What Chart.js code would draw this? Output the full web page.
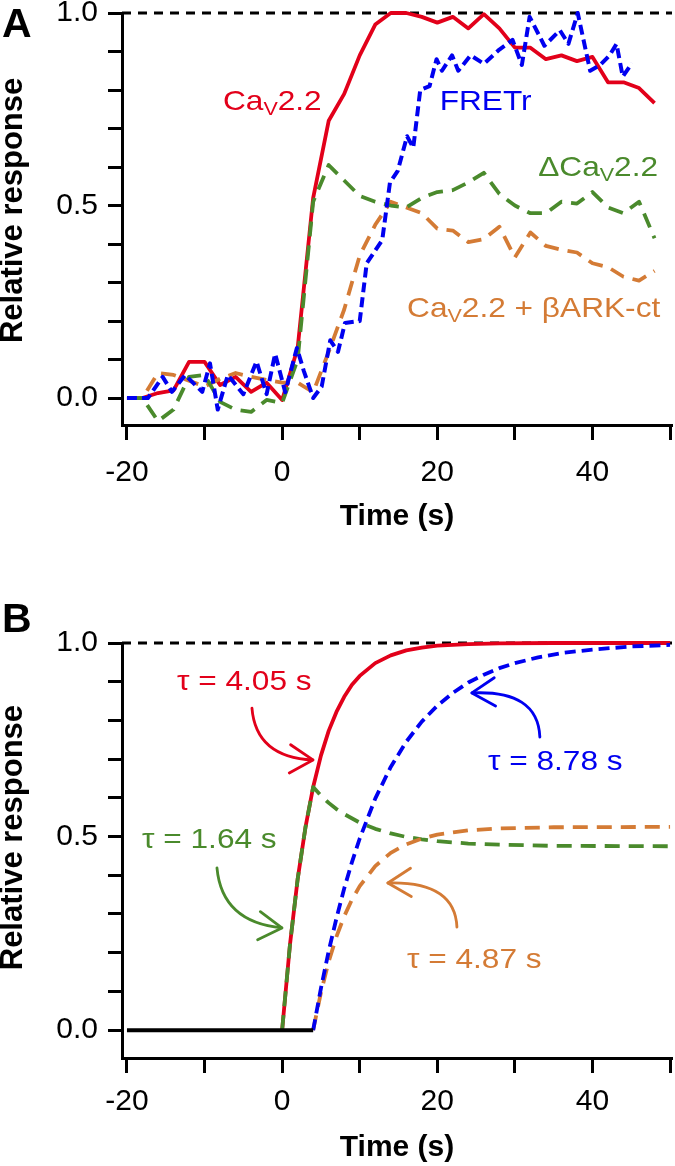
<!DOCTYPE html>
<html>
<head>
<meta charset="utf-8">
<script src="https://cdn.jsdelivr.net/npm/chart.js@4.4.1/dist/chart.umd.min.js"></script>
<style>
  html, body { margin: 0; padding: 0; background: #fff; }
  #wrap { position: relative; width: 675px; height: 1166px; }
  canvas { position: absolute; left: 0; }
</style>
</head>
<body>
<div id="wrap">
  <canvas id="chartA" width="675" height="560" style="top:0"></canvas>
  <canvas id="chartB" width="675" height="606" style="top:560px"></canvas>
</div>
<script>
// --- Panel A: measured traces ---
const timeA = [-20, -18, -16, -14, -12, -10, -8, -6, -4, -2, 0, 2, 4, 6, 8, 10, 12, 14, 16, 18,
               20, 22, 24, 26, 28, 30, 32, 34, 36, 38, 40, 42, 44, 46, 48];
const cav22 = [0, 0, 0.013, 0.02, 0.094, 0.094, 0.034, 0.055, 0.016, 0.04, -0.005, 0.13, 0.52, 0.72, 0.79,
               0.89, 0.97, 1.0, 1.0, 0.99, 0.975, 0.99, 0.96, 0.997, 0.96, 0.91, 0.91, 0.88, 0.89, 0.875,
               0.886, 0.82, 0.82, 0.805, 0.766];
const deltaCav22 = [0, 0, -0.06, -0.03, 0.055, 0.06, -0.01, -0.03, -0.036, -0.005, -0.013, 0.1, 0.51, 0.605,
                    0.565, 0.525, 0.51, 0.5, 0.495, 0.52, 0.535, 0.54, 0.56, 0.585, 0.53, 0.5, 0.48, 0.48,
                    0.51, 0.505, 0.535, 0.495, 0.48, 0.51, 0.415];
const cavBark = [0, 0, 0.065, 0.06, 0.045, 0.03, 0.05, 0.065, 0.055, 0.047, 0.04, 0.04, 0.015, 0.12, 0.23,
                 0.37, 0.45, 0.51, 0.495, 0.48, 0.44, 0.435, 0.405, 0.413, 0.445, 0.365, 0.43, 0.395, 0.385,
                 0.378, 0.35, 0.34, 0.315, 0.305, 0.33];
const fretTime = [-20, -17.3, -15.4, -14.2, -12.5, -10.3, -9.3, -8.3, -7, -5, -3.3, -2, -0.9, 0.4, 1.9, 2.8,
                  4, 5.1, 6.2, 7.2, 8.1, 10, 10.9, 12.9, 13.9, 14.9, 16.1, 16.9, 17.8, 19, 19.9, 20.6, 21.9,
                  22.7, 24.3, 26, 28, 29.7, 30.9, 31.9, 33.8, 35.8, 36.9, 38.1, 39.7, 41, 42.2, 43.1, 43.9, 45.1];
const fretValue = [0, 0, 0.055, 0.016, 0.06, 0.016, 0.09, -0.03, 0.06, 0.01, 0.095, 0.01, 0.115, 0.015, 0.13,
                   0.07, 0.0, 0.03, 0.15, 0.12, 0.195, 0.2, 0.35, 0.41, 0.56, 0.59, 0.68, 0.65, 0.8, 0.81,
                   0.88, 0.85, 0.89, 0.85, 0.89, 0.868, 0.905, 0.93, 0.865, 0.99, 0.915, 0.955, 0.92, 1.0,
                   0.85, 0.865, 0.89, 0.92, 0.835, 0.87];

// --- Panel B: fitted curves ---
const fitRedTime = [0, 1, 2, 3, 4, 5, 6, 7, 8, 9, 10, 12, 14, 16, 18, 20, 24, 28, 35, 50];
const fitRed = [0, 0.219, 0.390, 0.523, 0.628, 0.709, 0.773, 0.822, 0.861, 0.892, 0.915, 0.948, 0.968,
                0.981, 0.988, 0.993, 0.997, 0.999, 1.0, 1.0];
const fitGreenTime = [0, 1, 2, 3, 4, 5, 6, 7, 8, 10, 12, 14, 16, 18, 20, 24, 28, 35, 50];
const fitGreen = [0, 0.219, 0.390, 0.523, 0.628, 0.606, 0.587, 0.571, 0.558, 0.536, 0.520, 0.508, 0.499,
                  0.493, 0.488, 0.482, 0.479, 0.476, 0.475];
const fitBlueTime = [4, 5, 6, 7, 8, 9, 10, 12, 14, 16, 18, 20, 22, 24, 26, 28, 30, 33, 36, 40, 45, 50];
const fitBlue = [0, 0.108, 0.204, 0.289, 0.366, 0.434, 0.495, 0.598, 0.680, 0.745, 0.797, 0.838, 0.871,
                 0.898, 0.918, 0.935, 0.948, 0.963, 0.974, 0.983, 0.991, 0.995];
const fitOrangeTime = [4, 5, 6, 7, 8, 9, 10, 12, 14, 16, 18, 20, 24, 28, 35, 50];
const fitOrange = [0, 0.097, 0.177, 0.2415, 0.294, 0.337, 0.372, 0.4235, 0.458, 0.480, 0.495, 0.505,
                   0.516, 0.521, 0.524, 0.525];
const baseTime = [-20, 4];
const baseValue = [0, 0];

const X_MIN = -20.64, X_MAX = 50.25;
const refTime = [X_MIN, X_MAX];
const refValue = [1, 1];

const FONT = '"Liberation Sans", Arial, Helvetica, sans-serif';
const RED = '#e2001a', BLUE = '#0000f0', GREEN = '#4a8a2c', ORANGE = '#d47b35';

Chart.defaults.font.family = FONT;
Chart.defaults.color = '#000';

function pts(xs, ys) {
    return xs.map((x, i) => ({x: x, y: ys[i]}));
}

function series(xs, ys, color, dash, width, order) {
    return {
        data: pts(xs, ys),
        borderColor: color,
        borderWidth: width,
        borderDash: dash,
        borderCapStyle: 'butt',
        borderJoinStyle: 'round',
        pointRadius: 0,
        tension: 0,
        fill: false,
        clip: false,
        order: order
    };
}

// text with a subscripted part, slightly widened like the original lettering
function richText(ctx, parts, x, y, color) {
    const size = 28;
    ctx.save();
    ctx.translate(x, y);
    ctx.scale(1.13, 1);
    ctx.fillStyle = color;
    ctx.textAlign = 'left';
    ctx.textBaseline = 'alphabetic';
    let cx = 0;
    parts.forEach(p => {
        const sub = typeof p !== 'string';
        const t = sub ? p.sub : p;
        ctx.font = (sub ? 19 : size) + 'px ' + FONT;
        ctx.fillText(t, cx, sub ? 5 : 0);
        cx += ctx.measureText(t).width;
    });
    ctx.restore();
}

function curvedArrow(ctx, a, c, b, color) {
    ctx.save();
    ctx.strokeStyle = color;
    ctx.lineWidth = 2.8;
    ctx.lineCap = 'round';
    ctx.lineJoin = 'round';
    ctx.beginPath();
    ctx.moveTo(a.x, a.y);
    ctx.quadraticCurveTo(c.x, c.y, b.x, b.y);
    ctx.stroke();
    const ang = Math.atan2(b.y - c.y, b.x - c.x);
    const L = 27, w = 0.55;
    ctx.beginPath();
    ctx.moveTo(b.x - L * Math.cos(ang - w), b.y - L * Math.sin(ang - w));
    ctx.lineTo(b.x, b.y);
    ctx.lineTo(b.x - L * Math.cos(ang + w), b.y - L * Math.sin(ang + w));
    ctx.stroke();
    ctx.restore();
}

function notesPlugin(letter, letterY, labels, arrows) {
    return {
        id: 'notes',
        afterDatasetsDraw(chart) {
            const ctx = chart.ctx;
            const xs = chart.scales.x, ys = chart.scales.y;
            const P = p => ({x: xs.getPixelForValue(p[0]), y: ys.getPixelForValue(p[1])});
            arrows.forEach(a => curvedArrow(ctx, P(a.from), P(a.ctrl), P(a.to), a.color));
            labels.forEach(l => {
                const p = P(l.at);
                richText(ctx, l.parts, p.x, p.y, l.color);
            });
            ctx.save();
            ctx.fillStyle = '#000';
            ctx.font = 'bold 41px ' + FONT;
            ctx.textBaseline = 'alphabetic';
            ctx.fillText(letter, 2, letterY);
            ctx.restore();
        }
    };
}

function axes(yMin, xHeight, labelPad, titlePad, ySpaces) {
    return {
        x: {
            type: 'linear', min: X_MIN, max: X_MAX,
            afterFit: s => { s.height = xHeight; s.paddingLeft = 0; s.paddingRight = 0; },
            border: {display: true, color: '#000', width: 3},
            grid: {drawOnChartArea: false, drawTicks: true, tickLength: 15, tickWidth: 3, tickColor: '#000'},
            ticks: {
                stepSize: 10, includeBounds: false, autoSkip: false, maxRotation: 0,
                color: '#000', padding: labelPad, font: {size: 30},
                callback: v => (Math.round(v) % 20 === 0 ? String(Math.round(v)) : '')
            },
            title: {
                display: true, text: 'Time (s)', color: '#000',
                font: {size: 30, weight: 'bold', lineHeight: 1.2},
                padding: {top: 0, bottom: titlePad}
            }
        },
        y: {
            type: 'linear', min: yMin, max: 1.0,
            afterFit: s => { s.width = 122; s.paddingTop = 0; s.paddingBottom = 0; },
            border: {display: true, color: '#000', width: 3},
            grid: {drawOnChartArea: false, drawTicks: true, tickLength: 14, tickWidth: 3, tickColor: '#000'},
            ticks: {
                stepSize: 0.1, includeBounds: false, autoSkip: false,
                color: '#000', padding: 10, font: {size: 30},
                callback: v => {
                    const k = Math.round(v * 10);
                    return k % 5 === 0 ? (k / 10).toFixed(1) : '';
                }
            },
            title: {
                display: true, text: ySpaces + 'Relative response', color: '#000',
                font: {size: 31, weight: 'bold', lineHeight: 0.84},
                padding: 0
            }
        }
    };
}

function baseOptions(padTop, scales) {
    return {
        responsive: false,
        animation: false,
        devicePixelRatio: 1,
        layout: {padding: {top: padTop, right: 3, left: 0, bottom: 0}},
        plugins: {legend: {display: false}, tooltip: {enabled: false}},
        scales: scales
    };
}

// Panel A
new Chart(document.getElementById('chartA'), {
    type: 'line',
    data: {
        datasets: [
            series(fretTime, fretValue, BLUE, [10, 5], 4, 1),
            series(timeA, deltaCav22, GREEN, [15, 9], 3.8, 2),
            series(timeA, cavBark, ORANGE, [15, 9], 3.8, 3),
            series(timeA, cav22, RED, [], 3.8, 4),
            series(refTime, refValue, '#000', [9, 7], 3, 5)
        ]
    },
    options: baseOptions(13, axes(-0.07, 135, 15, 25, '  ')),
    plugins: [notesPlugin('A', 37, [
        {at: [-7.63, 0.748], color: RED, parts: ['Ca', {sub: 'V'}, '2.2']},
        {at: [20.3, 0.748], color: BLUE, parts: ['FRETr']},
        {at: [33.0, 0.577], color: GREEN, parts: ['\u0394Ca', {sub: 'V'}, '2.2']},
        {at: [16.1, 0.21], color: ORANGE, parts: ['Ca', {sub: 'V'}, '2.2 + \u03b2ARK-ct']}
    ], [])]
});

// Panel B
new Chart(document.getElementById('chartB'), {
    type: 'line',
    data: {
        datasets: [
            series(baseTime, baseValue, '#000', [], 4, 0),
            series(fitBlueTime, fitBlue, BLUE, [11, 6], 3.8, 1),
            series(fitOrangeTime, fitOrange, ORANGE, [15, 9], 3.8, 2),
            series(fitGreenTime, fitGreen, GREEN, [15, 9], 3.8, 3),
            series(fitRedTime, fitRed, RED, [], 3.8, 4),
            series(refTime, refValue, '#000', [9, 7], 3, 5)
        ]
    },
    options: baseOptions(83, axes(-0.072, 108, 11, 0, '   ')),
    plugins: [notesPlugin('B', 72, [
        {at: [-13.56, 0.879], color: RED, parts: ['\u03c4 = 4.05 s']},
        {at: [-18.07, 0.470], color: GREEN, parts: ['\u03c4 = 1.64 s']},
        {at: [26.52, 0.672], color: BLUE, parts: ['\u03c4 = 8.78 s']},
        {at: [16.08, 0.160], color: ORANGE, parts: ['\u03c4 = 4.87 s']}
    ], [
        {from: [-3.89, 0.832], ctrl: [-3.38, 0.705], to: [3.97, 0.698], color: RED},
        {from: [-8.40, 0.419], ctrl: [-7.76, 0.279], to: [-0.03, 0.264], color: GREEN},
        {from: [33.22, 0.757], ctrl: [32.96, 0.879], to: [24.46, 0.871], color: BLUE},
        {from: [22.53, 0.266], ctrl: [22.27, 0.385], to: [13.63, 0.380], color: ORANGE}
    ])]
});
</script>
</body>
</html>
